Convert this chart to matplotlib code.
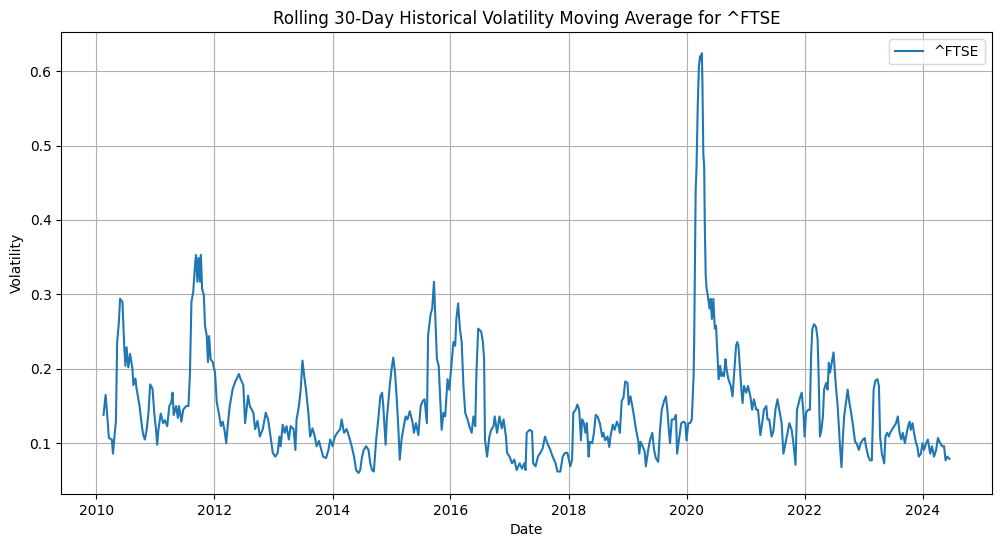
import numpy as np
import pandas as pd
import matplotlib
matplotlib.use("Agg")
import matplotlib.pyplot as plt
import matplotlib.dates as mdates

# ^FTSE rolling 30-day volatility (decimal year, value)
years_2010_2012 = [2010.12, 2010.155, 2010.18, 2010.21, 2010.26, 2010.28, 2010.30, 2010.33, 2010.35, 2010.38,
                   2010.40, 2010.44, 2010.47, 2010.49, 2010.51, 2010.54, 2010.57, 2010.61, 2010.625, 2010.66,
                   2010.68, 2010.73, 2010.77, 2010.79, 2010.82, 2010.85, 2010.88, 2010.91, 2010.95, 2010.98,
                   2011.01, 2011.03, 2011.05, 2011.09, 2011.13, 2011.16, 2011.20, 2011.235, 2011.27, 2011.29,
                   2011.31, 2011.35, 2011.38, 2011.40, 2011.44, 2011.47, 2011.52, 2011.56, 2011.585, 2011.61,
                   2011.64, 2011.67, 2011.687, 2011.71, 2011.73, 2011.755, 2011.77, 2011.79, 2011.82, 2011.84,
                   2011.87, 2011.89, 2011.91, 2011.935, 2011.97, 2012.01, 2012.04, 2012.08, 2012.11, 2012.14,
                   2012.17, 2012.20, 2012.23, 2012.26, 2012.31, 2012.35, 2012.38, 2012.415, 2012.44, 2012.49,
                   2012.52, 2012.57]
vol_2010_2012 = [0.138, 0.165, 0.14, 0.107, 0.105, 0.086, 0.105, 0.13, 0.235, 0.263,
                 0.294, 0.29, 0.231, 0.204, 0.229, 0.202, 0.22, 0.20, 0.178, 0.187,
                 0.173, 0.15, 0.123, 0.112, 0.105, 0.118, 0.14, 0.179, 0.173, 0.14,
                 0.118, 0.098, 0.118, 0.14, 0.127, 0.131, 0.123, 0.15, 0.155, 0.168,
                 0.138, 0.15, 0.134, 0.15, 0.129, 0.145, 0.15, 0.15, 0.195, 0.29,
                 0.303, 0.339, 0.353, 0.317, 0.349, 0.317, 0.353, 0.308, 0.299, 0.258,
                 0.244, 0.209, 0.244, 0.213, 0.209, 0.195, 0.155, 0.138, 0.123, 0.129,
                 0.118, 0.10, 0.127, 0.15, 0.173, 0.182, 0.187, 0.193, 0.187, 0.178,
                 0.127, 0.164]

years_2012_2015 = [2012.60, 2012.66, 2012.69, 2012.73, 2012.77, 2012.82, 2012.87, 2012.91, 2012.95, 2012.99,
                   2013.03, 2013.07, 2013.10, 2013.12, 2013.155, 2013.19, 2013.22, 2013.26, 2013.29, 2013.34,
                   2013.37, 2013.39, 2013.43, 2013.46, 2013.49, 2013.52, 2013.55, 2013.59, 2013.62, 2013.66,
                   2013.70, 2013.73, 2013.77, 2013.81, 2013.84, 2013.89, 2013.93, 2013.96, 2014.00, 2014.04,
                   2014.08, 2014.13, 2014.155, 2014.195, 2014.24, 2014.28, 2014.325, 2014.365, 2014.40, 2014.44,
                   2014.47, 2014.50, 2014.53, 2014.57, 2014.61, 2014.64, 2014.67, 2014.70, 2014.74, 2014.78,
                   2014.81, 2014.84, 2014.86, 2014.90, 2014.92, 2014.95, 2014.97, 2015.00, 2015.03, 2015.06,
                   2015.09, 2015.12, 2015.14, 2015.17, 2015.20, 2015.24, 2015.27, 2015.31]
vol_2012_2015 = [0.15, 0.141, 0.119, 0.13, 0.109, 0.119, 0.141, 0.132, 0.109, 0.087,
                 0.082, 0.087, 0.109, 0.096, 0.125, 0.114, 0.123, 0.105, 0.123, 0.119,
                 0.091, 0.132, 0.15, 0.172, 0.211, 0.19, 0.172, 0.141, 0.109, 0.12,
                 0.109, 0.096, 0.103, 0.091, 0.082, 0.08, 0.091, 0.105, 0.096, 0.109,
                 0.114, 0.119, 0.132, 0.114, 0.119, 0.109, 0.096, 0.082, 0.064, 0.06,
                 0.064, 0.082, 0.091, 0.096, 0.091, 0.073, 0.064, 0.062, 0.105, 0.136,
                 0.163, 0.168, 0.15, 0.098, 0.132, 0.159, 0.177, 0.199, 0.215, 0.195,
                 0.159, 0.114, 0.078, 0.105, 0.119, 0.136, 0.132, 0.143]

years_2015_2018 = [2015.36, 2015.38, 2015.415, 2015.455, 2015.495, 2015.53, 2015.56, 2015.60, 2015.62, 2015.66,
                   2015.69, 2015.72, 2015.74, 2015.77, 2015.80, 2015.83, 2015.85, 2015.88, 2015.91, 2015.95,
                   2015.98, 2016.02, 2016.05, 2016.08, 2016.10, 2016.13, 2016.16, 2016.19, 2016.22, 2016.25,
                   2016.29, 2016.32, 2016.36, 2016.39, 2016.42, 2016.44, 2016.47, 2016.52, 2016.55, 2016.57,
                   2016.585, 2016.62, 2016.66, 2016.69, 2016.73, 2016.75, 2016.79, 2016.83, 2016.87, 2016.90,
                   2016.94, 2016.96, 2017.00, 2017.04, 2017.08, 2017.12, 2017.17, 2017.21, 2017.25, 2017.27,
                   2017.29, 2017.34, 2017.38, 2017.40, 2017.44, 2017.48, 2017.52, 2017.56, 2017.60, 2017.64,
                   2017.69, 2017.73, 2017.78, 2017.81, 2017.86, 2017.90, 2017.94, 2017.98, 2018.03, 2018.06]
vol_2015_2018 = [0.127, 0.114, 0.127, 0.111, 0.15, 0.157, 0.159, 0.127, 0.245, 0.272,
                 0.281, 0.317, 0.276, 0.213, 0.204, 0.154, 0.118, 0.141, 0.136, 0.186,
                 0.172, 0.209, 0.236, 0.231, 0.267, 0.288, 0.254, 0.236, 0.177, 0.141,
                 0.132, 0.123, 0.114, 0.136, 0.123, 0.195, 0.254, 0.25, 0.236, 0.213,
                 0.105, 0.082, 0.109, 0.118, 0.123, 0.136, 0.114, 0.136, 0.12, 0.132,
                 0.109, 0.087, 0.082, 0.073, 0.078, 0.064, 0.073, 0.066, 0.073, 0.064,
                 0.114, 0.118, 0.116, 0.073, 0.069, 0.082, 0.087, 0.093, 0.109, 0.10,
                 0.091, 0.082, 0.073, 0.062, 0.062, 0.082, 0.087, 0.087, 0.069, 0.078]

years_2018_2020 = [2018.08, 2018.12, 2018.15, 2018.18, 2018.21, 2018.23, 2018.26, 2018.285, 2018.31, 2018.34,
                   2018.36, 2018.40, 2018.43, 2018.46, 2018.49, 2018.53, 2018.57, 2018.59, 2018.62, 2018.66,
                   2018.69, 2018.71, 2018.75, 2018.78, 2018.82, 2018.85, 2018.87, 2018.90, 2018.93, 2018.96,
                   2019.00, 2019.02, 2019.05, 2019.08, 2019.11, 2019.14, 2019.18, 2019.20, 2019.22, 2019.26,
                   2019.29, 2019.31, 2019.35, 2019.38, 2019.42, 2019.45, 2019.48, 2019.52, 2019.55, 2019.58,
                   2019.62, 2019.65, 2019.675, 2019.70, 2019.72, 2019.75, 2019.79, 2019.82, 2019.84, 2019.88,
                   2019.91, 2019.95, 2019.98, 2020.00, 2020.03, 2020.06, 2020.09]
vol_2018_2020 = [0.141, 0.145, 0.152, 0.145, 0.104, 0.132, 0.127, 0.114, 0.127, 0.082,
                 0.102, 0.10, 0.114, 0.138, 0.136, 0.127, 0.109, 0.114, 0.104, 0.109,
                 0.095, 0.109, 0.125, 0.118, 0.129, 0.123, 0.114, 0.157, 0.161, 0.183,
                 0.181, 0.152, 0.163, 0.150, 0.136, 0.12, 0.104, 0.086, 0.102, 0.095,
                 0.089, 0.069, 0.091, 0.104, 0.114, 0.091, 0.08, 0.075, 0.118, 0.145,
                 0.157, 0.163, 0.145, 0.118, 0.10, 0.132, 0.132, 0.138, 0.086, 0.109,
                 0.127, 0.129, 0.127, 0.104, 0.127, 0.127, 0.132]

years_2020_2022 = [2020.12, 2020.13, 2020.14, 2020.155, 2020.17, 2020.19, 2020.21, 2020.23, 2020.245, 2020.26,
                   2020.27, 2020.285, 2020.30, 2020.31, 2020.325, 2020.34, 2020.36, 2020.39, 2020.41, 2020.43,
                   2020.455, 2020.48, 2020.50, 2020.52, 2020.545, 2020.57, 2020.59, 2020.61, 2020.635, 2020.66,
                   2020.68, 2020.71, 2020.75, 2020.78, 2020.80, 2020.84, 2020.86, 2020.88, 2020.91, 2020.93,
                   2020.95, 2020.975, 2021.01, 2021.04, 2021.08, 2021.11, 2021.14, 2021.18, 2021.21, 2021.25,
                   2021.28, 2021.31, 2021.35, 2021.37, 2021.40, 2021.44, 2021.47, 2021.505, 2021.54, 2021.57,
                   2021.61, 2021.64, 2021.675, 2021.71, 2021.74, 2021.78, 2021.81, 2021.845, 2021.87, 2021.90]
vol_2020_2022 = [0.19, 0.236, 0.312, 0.439, 0.471, 0.552, 0.606, 0.62, 0.615, 0.624,
                 0.583, 0.489, 0.471, 0.394, 0.326, 0.308, 0.299, 0.281, 0.294, 0.267,
                 0.294, 0.254, 0.258, 0.227, 0.186, 0.204, 0.19, 0.195, 0.19, 0.213,
                 0.199, 0.186, 0.177, 0.163, 0.186, 0.231, 0.236, 0.231, 0.195, 0.172,
                 0.154, 0.177, 0.168, 0.177, 0.163, 0.145, 0.159, 0.145, 0.145, 0.111,
                 0.127, 0.145, 0.15, 0.132, 0.132, 0.109, 0.116, 0.145, 0.159, 0.145,
                 0.127, 0.086, 0.10, 0.114, 0.127, 0.118, 0.10, 0.071, 0.145, 0.154]

years_2022_2024 = [2021.92, 2021.95, 2021.98, 2022.00, 2022.025, 2022.06, 2022.09, 2022.11, 2022.13, 2022.16,
                   2022.195, 2022.22, 2022.235, 2022.26, 2022.285, 2022.31, 2022.33, 2022.365, 2022.39, 2022.41,
                   2022.43, 2022.46, 2022.49, 2022.51, 2022.53, 2022.56, 2022.58, 2022.60, 2022.625, 2022.65,
                   2022.67, 2022.70, 2022.73, 2022.76, 2022.78, 2022.805, 2022.83, 2022.855, 2022.88, 2022.92,
                   2022.95, 2022.99, 2023.02, 2023.04, 2023.08, 2023.11, 2023.14, 2023.17, 2023.20, 2023.235,
                   2023.26, 2023.28, 2023.31, 2023.35, 2023.37, 2023.40, 2023.43, 2023.45, 2023.48, 2023.52,
                   2023.55, 2023.58, 2023.61, 2023.64, 2023.665, 2023.70, 2023.72, 2023.755, 2023.78, 2023.80,
                   2023.83, 2023.855, 2023.89, 2023.91, 2023.935, 2023.97, 2024.00, 2024.025, 2024.06, 2024.09,
                   2024.13, 2024.16, 2024.195, 2024.23, 2024.26, 2024.30, 2024.33, 2024.365, 2024.39, 2024.42,
                   2024.455]
vol_2022_2024 = [0.161, 0.168, 0.141, 0.109, 0.141, 0.145, 0.145, 0.217, 0.253, 0.26,
                 0.256, 0.24, 0.2, 0.109, 0.118, 0.136, 0.172, 0.181, 0.172, 0.208,
                 0.195, 0.208, 0.222, 0.2, 0.177, 0.15, 0.123, 0.096, 0.068, 0.109,
                 0.136, 0.154, 0.172, 0.154, 0.145, 0.132, 0.118, 0.102, 0.1, 0.091,
                 0.1, 0.105, 0.107, 0.096, 0.082, 0.077, 0.077, 0.172, 0.184, 0.186,
                 0.177, 0.109, 0.086, 0.073, 0.109, 0.114, 0.109, 0.114, 0.118, 0.123,
                 0.127, 0.136, 0.114, 0.105, 0.114, 0.1, 0.109, 0.123, 0.129, 0.118,
                 0.127, 0.114, 0.1, 0.096, 0.082, 0.086, 0.1, 0.091, 0.1, 0.105,
                 0.086, 0.096, 0.082, 0.091, 0.107, 0.1, 0.096, 0.096, 0.077, 0.082,
                 0.079]

years = np.array(years_2010_2012 + years_2012_2015 + years_2015_2018
                 + years_2018_2020 + years_2020_2022 + years_2022_2024)
vol = np.array(vol_2010_2012 + vol_2012_2015 + vol_2015_2018
               + vol_2018_2020 + vol_2020_2022 + vol_2022_2024)

# decimal year -> timestamp
whole = np.floor(years).astype(int)
dates = pd.to_datetime([f"{y}-01-01" for y in whole]) + pd.to_timedelta((years - whole) * 365.25, unit="D")

fig = plt.figure(figsize=(10.01, 5.47), dpi=100)
ax = fig.add_axes([0.0612, 0.0969, 0.9295, 0.8441])
ax.plot(dates, vol, label="^FTSE")
ax.set_title("Rolling 30-Day Historical Volatility Moving Average for ^FTSE")
ax.set_xlabel("Date")
ax.set_ylabel("Volatility")
ax.xaxis.set_major_locator(mdates.YearLocator(2))
ax.xaxis.set_major_formatter(mdates.DateFormatter("%Y"))
ax.grid(True)
ax.legend(loc="upper right")
fig.savefig("out.png", dpi=100)
